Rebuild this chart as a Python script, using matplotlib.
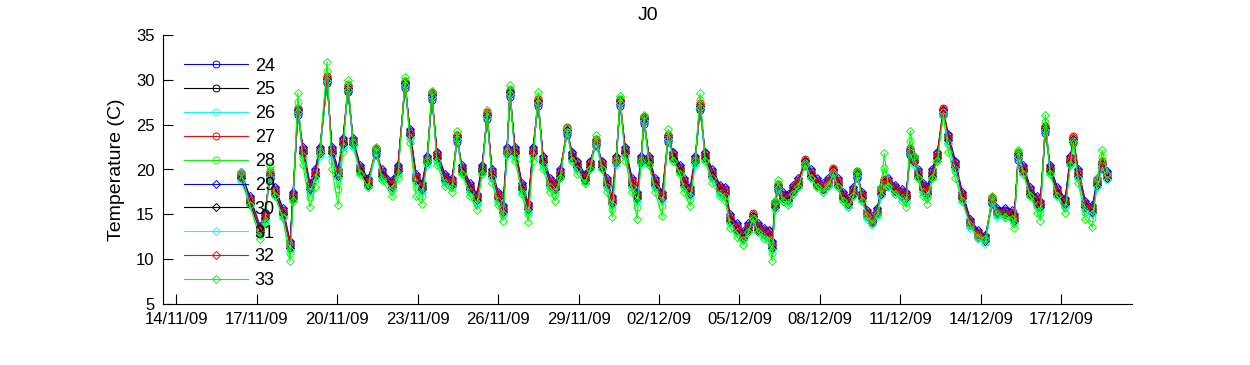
import numpy as np
import matplotlib
matplotlib.use("Agg")
import matplotlib.pyplot as plt

plt.rcParams['font.family'] = ['Liberation Sans', 'DejaVu Sans']

# time of each reading, days after 14/11/09 00:00
days = [2.41, 2.74, 3.12, 3.30, 3.49, 3.68, 3.97, 4.24, 4.35, 4.53,
        4.72, 4.98, 5.17, 5.35, 5.62, 5.80, 6.03, 6.21, 6.40, 6.59,
        6.85, 7.15, 7.44, 7.67, 8.04, 8.26, 8.53, 8.71, 8.94, 9.16,
        9.35, 9.53, 9.72, 10.02, 10.28, 10.47, 10.65, 10.95, 11.21, 11.40,
        11.59, 11.77, 12.00, 12.18, 12.33, 12.44, 12.63, 12.89, 13.12, 13.30,
        13.49, 13.68, 13.94, 14.12, 14.31, 14.57, 14.76, 14.94, 15.24, 15.43,
        15.65, 15.88, 16.06, 16.25, 16.40, 16.55, 16.74, 17.00, 17.18, 17.33,
        17.44, 17.63, 17.85, 18.12, 18.34, 18.53, 18.79, 18.94, 19.16, 19.35,
        19.53, 19.72, 19.98, 20.28, 20.47, 20.65, 20.91, 21.14, 21.32, 21.51,
        21.70, 21.92, 22.11, 22.22, 22.33, 22.44, 22.63, 22.82, 23.00, 23.19,
        23.45, 23.68, 23.90, 24.12, 24.31, 24.50, 24.68, 24.87, 25.06, 25.24,
        25.39, 25.58, 25.76, 25.95, 26.14, 26.29, 26.40, 26.55, 26.81, 27.07,
        27.22, 27.37, 27.52, 27.67, 27.85, 28.00, 28.19, 28.38, 28.60, 28.79,
        29.05, 29.31, 29.61, 29.91, 30.17, 30.43, 30.62, 30.91, 31.18, 31.25,
        31.40, 31.59, 31.85, 32.11, 32.22, 32.41, 32.59, 32.85, 33.15, 33.34,
        33.45, 33.64, 33.90, 34.16, 34.35, 34.53, 34.72]

s24 = [19.5,16.8,13.5,15.1,18.9,17.8,15.5,11.8,17.3,26.1,
       22.3,18.3,19.8,22.3,29.6,22.3,19.8,23.3,28.6,23.3,
       20.3,18.8,21.6,19.8,18.6,20.3,29.1,24.3,19.3,18.3,
       21.3,27.8,21.8,19.3,18.8,23.1,20.3,18.3,17.1,20.3,
       25.6,19.8,17.3,15.8,22.3,28.1,22.3,18.3,16.1,22.3,
       27.1,21.3,18.8,18.3,19.8,23.9,21.8,20.8,19.3,20.8,
       22.6,20.8,18.8,16.8,21.3,27.1,22.3,18.8,17.3,21.3,
       25.1,21.3,18.8,17.3,23.1,21.8,20.3,18.8,17.8,21.3,
       26.6,21.8,19.8,18.1,17.8,14.8,13.8,12.9,13.8,14.3,
       13.8,13.3,13.1,11.8,16.3,17.6,17.3,17.1,18.1,18.8,
       20.4,19.8,18.8,18.3,18.8,19.4,18.8,17.3,16.6,17.8,
       19.0,17.3,15.3,14.6,15.5,17.8,18.1,18.8,18.1,17.6,
       17.3,21.6,21.3,19.8,18.3,17.8,19.8,21.8,26.1,23.8,
       20.8,17.3,14.3,13.0,12.5,16.1,15.5,15.5,15.3,14.8,
       21.1,20.3,17.8,16.8,16.3,24.1,20.3,17.8,16.6,21.3,
       22.9,19.8,16.3,15.8,18.8,20.1,19.6]

s25 = [19.2,16.5,13.2,14.8,19.3,17.5,15.2,11.5,17.0,26.5,
       22.0,18.0,19.5,22.0,30.0,22.0,19.5,23.0,29.0,23.0,
       20.0,18.5,22.0,19.5,18.3,20.0,29.5,24.0,19.0,18.0,
       21.0,28.2,21.5,19.0,18.5,23.5,20.0,18.0,16.8,20.0,
       26.0,19.5,17.0,15.5,22.0,28.5,22.0,18.0,15.8,22.0,
       27.5,21.0,18.5,18.0,19.5,24.3,21.5,20.5,19.0,20.5,
       23.0,20.5,18.5,16.5,21.0,27.5,22.0,18.5,17.0,21.0,
       25.5,21.0,18.5,17.0,23.5,21.5,20.0,18.5,17.5,21.0,
       27.0,21.5,19.5,17.8,17.5,14.5,13.5,12.6,13.5,14.7,
       13.5,13.0,12.8,11.5,16.0,18.0,17.0,16.8,17.8,18.5,
       20.8,19.5,18.5,18.0,18.5,19.8,18.5,17.0,16.3,17.5,
       19.4,17.0,15.0,14.3,15.2,17.5,18.5,18.5,17.8,17.3,
       17.0,22.0,21.0,19.5,18.0,17.5,19.5,21.5,26.5,23.5,
       20.5,17.0,14.0,12.7,12.2,16.5,15.2,15.2,15.0,14.5,
       21.5,20.0,17.5,16.5,16.0,24.5,20.0,17.5,16.3,21.0,
       23.3,19.5,16.0,15.5,18.5,20.5,19.3]

s26 = [18.9,16.2,12.9,14.5,19.5,17.2,14.9,11.2,16.7,26.7,
       21.7,17.7,19.2,21.7,30.2,21.7,19.2,22.7,29.2,22.7,
       19.7,18.2,22.2,19.2,18.0,19.7,29.7,23.7,18.7,17.7,
       20.7,28.4,21.2,18.7,18.2,23.7,19.7,17.7,16.5,19.7,
       26.2,19.2,16.7,15.2,21.7,28.7,21.7,17.7,15.5,21.7,
       27.7,20.7,18.2,17.7,19.2,24.5,21.2,20.2,18.7,20.2,
       23.2,20.2,18.2,16.2,20.7,27.7,21.7,18.2,16.7,20.7,
       25.7,20.7,18.2,16.7,23.7,21.2,19.7,18.2,17.2,20.7,
       27.2,21.2,19.2,17.5,17.2,14.2,13.2,12.3,13.2,14.9,
       13.2,12.7,12.5,11.2,15.7,18.2,16.7,16.5,17.5,18.2,
       21.0,19.2,18.2,17.7,18.2,20.0,18.2,16.7,16.0,17.2,
       19.6,16.7,14.7,14.0,14.9,17.2,18.7,18.2,17.5,17.0,
       16.7,22.2,20.7,19.2,17.7,17.2,19.2,21.2,26.7,23.2,
       20.2,16.7,13.7,12.4,11.9,16.7,14.9,14.9,14.7,14.2,
       21.7,19.7,17.2,16.2,15.7,24.7,19.7,17.2,16.0,20.7,
       23.5,19.2,15.7,15.2,18.2,20.7,19.0]

s27 = [19.4,16.7,13.4,15.0,19.7,17.7,15.4,11.7,17.2,26.9,
       22.2,18.2,19.7,22.2,30.4,22.2,19.7,23.2,29.4,23.2,
       20.2,18.7,22.4,19.7,18.5,20.2,29.9,24.2,19.2,18.2,
       21.2,28.6,21.7,19.2,18.7,23.9,20.2,18.2,17.0,20.2,
       26.4,19.7,17.2,15.7,22.2,28.9,22.2,18.2,16.0,22.2,
       27.9,21.2,18.7,18.2,19.7,24.7,21.7,20.7,19.2,20.7,
       23.4,20.7,18.7,16.7,21.2,27.9,22.2,18.7,17.2,21.2,
       25.9,21.2,18.7,17.2,23.9,21.7,20.2,18.7,17.7,21.2,
       27.4,21.7,19.7,18.0,17.7,14.7,13.7,12.8,13.7,15.1,
       13.7,13.2,13.0,11.7,16.2,18.4,17.2,17.0,18.0,18.7,
       21.2,19.7,18.7,18.2,18.7,20.2,18.7,17.2,16.5,17.7,
       19.8,17.2,15.2,14.5,15.4,17.7,18.9,18.7,18.0,17.5,
       17.2,22.4,21.2,19.7,18.2,17.7,19.7,21.7,26.9,23.7,
       20.7,17.2,14.2,12.9,12.4,16.9,15.4,15.4,15.2,14.7,
       21.9,20.2,17.7,16.7,16.2,24.9,20.2,17.7,16.5,21.2,
       23.7,19.7,16.2,15.7,18.7,20.9,19.5]

s28 = [19.5,16.3,12.8,14.4,19.9,17.3,14.9,10.7,16.8,27.5,
       21.3,16.9,18.8,22.0,31.0,21.0,17.8,22.5,29.5,23.0,
       19.8,18.3,22.3,19.2,17.7,19.5,29.9,23.5,18.0,17.1,
       21.0,28.5,21.0,18.6,18.0,23.9,19.8,17.5,16.2,19.8,
       26.3,19.0,16.5,14.9,22.0,29.0,21.5,17.7,15.0,21.5,
       28.1,20.5,18.0,17.3,19.3,24.5,21.3,20.0,18.8,20.3,
       23.4,20.3,18.0,15.6,21.0,27.9,21.5,18.0,15.8,21.0,
       25.8,20.8,18.0,15.9,24.0,21.3,19.8,18.0,16.7,21.0,
       27.8,21.3,19.0,17.4,17.0,14.0,13.0,12.1,13.3,14.6,
       13.3,12.7,12.4,10.7,16.3,18.4,16.8,16.4,17.6,18.3,
       20.7,19.3,18.3,17.8,18.4,19.7,18.3,16.8,16.1,17.3,
       19.6,16.8,14.9,14.2,15.1,17.8,20.2,18.4,17.6,16.9,
       16.4,23.2,21.3,19.3,17.5,16.9,19.3,21.3,26.3,22.8,
       19.8,16.8,13.9,12.6,12.2,16.8,15.1,15.0,14.8,14.0,
       21.9,19.8,17.3,15.9,15.2,25.3,19.8,17.3,15.8,20.8,
       23.2,19.0,15.3,14.6,18.8,21.4,19.4]

s29 = [19.7,17.0,13.7,15.3,19.1,18.0,15.7,12.0,17.5,26.3,
       22.5,18.5,20.0,22.5,29.8,22.5,20.0,23.5,28.8,23.5,
       20.5,19.0,21.8,20.0,18.8,20.5,29.3,24.5,19.5,18.5,
       21.5,28.0,22.0,19.5,19.0,23.3,20.5,18.5,17.3,20.5,
       25.8,20.0,17.5,16.0,22.5,28.3,22.5,18.5,16.3,22.5,
       27.3,21.5,19.0,18.5,20.0,24.1,22.0,21.0,19.5,21.0,
       22.8,21.0,19.0,17.0,21.5,27.3,22.5,19.0,17.5,21.5,
       25.3,21.5,19.0,17.5,23.3,22.0,20.5,19.0,18.0,21.5,
       26.8,22.0,20.0,18.3,18.0,15.0,14.0,13.1,14.0,14.5,
       14.0,13.5,13.3,12.0,16.5,17.8,17.5,17.3,18.3,19.0,
       20.6,20.0,19.0,18.5,19.0,19.6,19.0,17.5,16.8,18.0,
       19.2,17.5,15.5,14.8,15.7,18.0,18.3,19.0,18.3,17.8,
       17.5,21.8,21.5,20.0,18.5,18.0,20.0,22.0,26.3,24.0,
       21.0,17.5,14.5,13.2,12.7,16.3,15.7,15.7,15.5,15.0,
       21.3,20.5,18.0,17.0,16.5,24.3,20.5,18.0,16.8,21.5,
       23.1,20.0,16.5,16.0,19.0,20.3,19.8]

s30 = [19.0,16.3,13.0,14.6,19.4,17.3,15.0,11.3,16.8,26.6,
       21.8,17.8,19.3,21.8,30.1,21.8,19.3,22.8,29.1,22.8,
       19.8,18.3,22.1,19.3,18.1,19.8,29.6,23.8,18.8,17.8,
       20.8,28.3,21.3,18.8,18.3,23.6,19.8,17.8,16.6,19.8,
       26.1,19.3,16.8,15.3,21.8,28.6,21.8,17.8,15.6,21.8,
       27.6,20.8,18.3,17.8,19.3,24.4,21.3,20.3,18.8,20.3,
       23.1,20.3,18.3,16.3,20.8,27.6,21.8,18.3,16.8,20.8,
       25.6,20.8,18.3,16.8,23.6,21.3,19.8,18.3,17.3,20.8,
       27.1,21.3,19.3,17.6,17.3,14.3,13.3,12.4,13.3,14.8,
       13.3,12.8,12.6,11.3,15.8,18.1,16.8,16.6,17.6,18.3,
       20.9,19.3,18.3,17.8,18.3,19.9,18.3,16.8,16.1,17.3,
       19.5,16.8,14.8,14.1,15.0,17.3,18.6,18.3,17.6,17.1,
       16.8,22.1,20.8,19.3,17.8,17.3,19.3,21.3,26.6,23.3,
       20.3,16.8,13.8,12.5,12.0,16.6,15.0,15.0,14.8,14.3,
       21.6,19.8,17.3,16.3,15.8,24.6,19.8,17.3,16.1,20.8,
       23.4,19.3,15.8,15.3,18.3,20.6,19.1]

s31 = [18.7,16.0,12.7,14.3,19.2,17.0,14.7,11.0,16.5,26.4,
       21.5,17.5,19.0,21.5,29.9,21.5,19.0,22.5,28.9,22.5,
       19.5,18.0,21.9,19.0,17.8,19.5,29.4,23.5,18.5,17.5,
       20.5,28.1,21.0,18.5,18.0,23.4,19.5,17.5,16.3,19.5,
       25.9,19.0,16.5,15.0,21.5,28.4,21.5,17.5,15.3,21.5,
       27.4,20.5,18.0,17.5,19.0,24.2,21.0,20.0,18.5,20.0,
       22.9,20.0,18.0,16.0,20.5,27.4,21.5,18.0,16.5,20.5,
       25.4,20.5,18.0,16.5,23.4,21.0,19.5,18.0,17.0,20.5,
       26.9,21.0,19.0,17.3,17.0,14.0,13.0,12.1,13.0,14.6,
       13.0,12.5,12.3,11.0,15.5,17.9,16.5,16.3,17.3,18.0,
       20.7,19.0,18.0,17.5,18.0,19.7,18.0,16.5,15.8,17.0,
       19.3,16.5,14.5,13.8,14.7,17.0,18.4,18.0,17.3,16.8,
       16.5,21.9,20.5,19.0,17.5,17.0,19.0,21.0,26.4,23.0,
       20.0,16.5,13.5,12.2,11.7,16.4,14.7,14.7,14.5,14.0,
       21.4,19.5,17.0,16.0,15.5,24.4,19.5,17.0,15.8,20.5,
       23.2,19.0,15.5,15.0,18.0,20.4,18.8]

s32 = [19.3,16.6,13.3,14.9,19.6,17.6,15.3,11.6,17.1,26.8,
       22.1,18.1,19.6,22.1,30.3,22.1,19.6,23.1,29.3,23.1,
       20.1,18.6,22.3,19.6,18.4,20.1,29.8,24.1,19.1,18.1,
       21.1,28.5,21.6,19.1,18.6,23.8,20.1,18.1,16.9,20.1,
       26.3,19.6,17.1,15.6,22.1,28.8,22.1,18.1,15.9,22.1,
       27.8,21.1,18.6,18.1,19.6,24.6,21.6,20.6,19.1,20.6,
       23.3,20.6,18.6,16.6,21.1,27.8,22.1,18.6,17.1,21.1,
       25.8,21.1,18.6,17.1,23.8,21.6,20.1,18.6,17.6,21.1,
       27.3,21.6,19.6,17.9,17.6,14.6,13.6,12.7,13.6,15.0,
       13.6,13.1,12.9,11.6,16.1,18.3,17.1,16.9,17.9,18.6,
       21.1,19.6,18.6,18.1,18.6,20.1,18.6,17.1,16.4,17.6,
       19.7,17.1,15.1,14.4,15.3,17.6,18.8,18.6,17.9,17.4,
       17.1,22.3,21.1,19.6,18.1,17.6,19.6,21.6,26.8,23.6,
       20.6,17.1,14.1,12.8,12.3,16.8,15.3,15.3,15.1,14.6,
       21.8,20.1,17.6,16.6,16.1,24.8,20.1,17.6,16.4,21.1,
       23.6,19.6,16.1,15.6,18.6,20.8,19.4]

s33 = [19.7,16.0,12.3,14.0,20.4,17.0,14.6,9.8,16.5,28.5,
       20.5,15.8,18.0,22.0,32.0,20.0,16.0,22.0,30.0,23.0,
       19.5,18.0,22.5,18.8,17.0,19.0,30.3,23.0,17.0,16.2,
       21.0,28.8,20.5,18.2,17.5,24.3,19.5,17.0,15.5,19.5,
       26.6,18.5,16.0,14.3,22.0,29.4,21.0,17.3,14.2,21.0,
       28.6,20.0,17.5,16.5,19.0,24.6,21.0,19.5,18.5,20.0,
       23.8,20.0,17.5,14.7,21.0,28.2,21.0,17.5,14.5,21.0,
       26.1,20.5,17.5,14.8,24.5,21.0,19.5,17.5,15.9,21.0,
       28.5,21.0,18.5,17.0,16.5,13.5,12.5,11.6,13.0,14.5,
       13.0,12.3,12.0,9.8,16.5,18.8,16.5,16.0,17.3,18.0,
       20.5,19.0,18.0,17.5,18.3,19.5,18.0,16.5,15.8,17.0,
       19.8,16.5,14.8,14.0,15.0,18.0,21.8,18.2,17.3,16.5,
       15.8,24.3,21.5,19.0,17.0,16.2,19.0,21.0,26.0,22.0,
       19.0,16.5,13.8,12.5,12.2,17.0,15.0,14.7,14.5,13.5,
       22.2,19.5,17.0,15.2,14.3,26.1,19.5,17.0,15.2,20.5,
       23.0,18.5,14.5,13.6,19.0,22.2,19.5]

labels = ['24', '25', '26', '27', '28', '29', '30', '31', '32', '33']
series = [s24, s25, s26, s27, s28, s29, s30, s31, s32, s33]
colors = ['#0000ff', '#000000', '#00ffff', '#ff0000', '#00ff00',
          '#0000ff', '#000000', '#00ffff', '#ff0000', '#00ff00']
markers = ['o', 'o', 'o', 'o', 'o', 'D', 'D', 'D', 'D', 'D']
tick_dates = ['14/11/09', '17/11/09', '20/11/09', '23/11/09', '26/11/09', '29/11/09',
              '02/12/09', '05/12/09', '08/12/09', '11/12/09', '14/12/09', '17/12/09']

base = np.datetime64('2009-11-14T00:00')
t = base + (np.array(days) * 1440).round().astype('timedelta64[m]')

W, H = 1250, 365
fig = plt.figure(figsize=(W / 100, H / 100), dpi=100)
ax = fig.add_axes([163 / W, 1 - 304 / H, (1132 - 163) / W, (304 - 35) / H])

for lab, y, c, m in zip(labels, series, colors, markers):
    ms = 5.0 if m == 'o' else 3.6
    ax.plot(t, y, color=c, lw=0.8, marker=m, ms=ms, mfc='none', mec=c,
            mew=0.7, label=lab)

ax.set_ylim(5, 35)
ax.set_yticks(range(5, 36, 5))
ax.set_xlim(base - np.timedelta64(12 * 60, 'm'), base + np.timedelta64(int(35.64 * 1440), 'm'))
tick_pos = [np.datetime64('20%s-%s-%sT00:00' % (s[6:8], s[3:5], s[0:2])) for s in tick_dates]
ax.set_xticks(tick_pos)
ax.set_xticklabels(tick_dates)

for side in ['top', 'right']:
    ax.spines[side].set_visible(False)
for side in ['left', 'bottom']:
    ax.spines[side].set_linewidth(0.8)
ax.tick_params(direction='in', length=7, width=0.8, labelsize=12, pad=6)

ax.set_ylabel('Temperature (C)', fontsize=14, labelpad=8)
ax.set_title('J0', fontsize=14, pad=11)

leg = ax.legend(loc='upper left', bbox_to_anchor=(0.022, 0.916), frameon=False,
                fontsize=13, handlelength=3.5, handletextpad=0.4,
                labelspacing=0.38, borderaxespad=0, borderpad=0)

fig.savefig('out.png', dpi=100)
